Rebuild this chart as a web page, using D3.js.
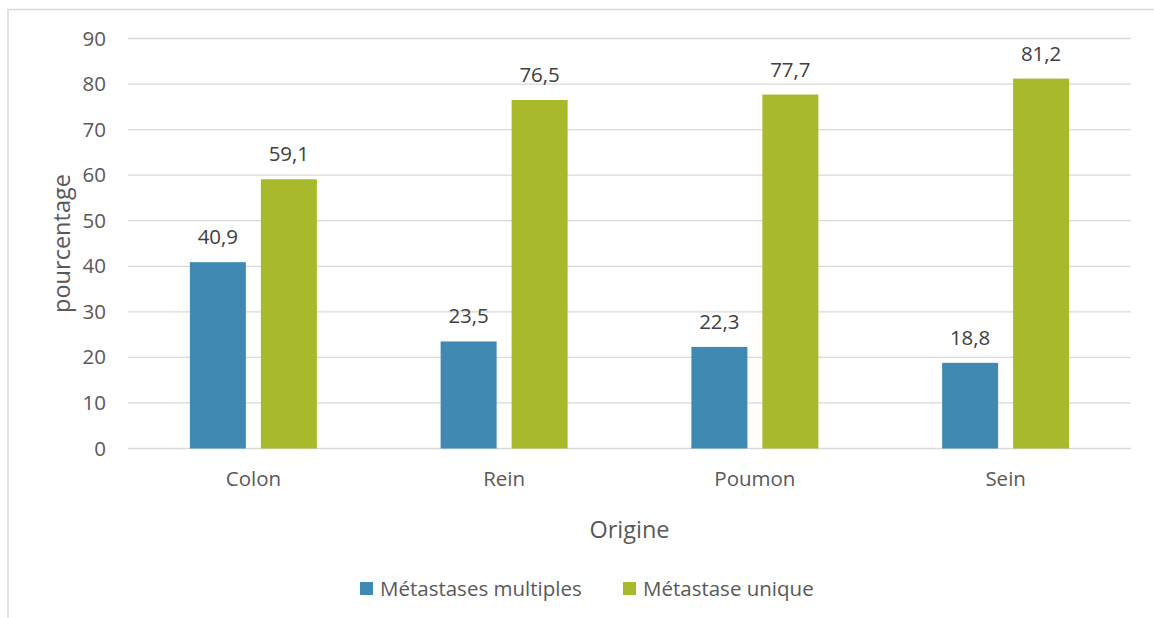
<!DOCTYPE html>
<html><head><meta charset="utf-8">
<script src="https://cdn.jsdelivr.net/npm/d3@7"></script>
<style>body{margin:0;background:#fff;} svg{display:block;font-family:"Open Sans",sans-serif;}</style>
</head><body>
<svg id="c" width="1154" height="618"></svg>
<script>
const categories = ["Colon","Rein","Poumon","Sein"];
const seriesNames = ["Métastases multiples","Métastase unique"];
const multiples = [40.9,23.5,22.3,18.8];
const unique = [59.1,76.5,77.7,81.2];
const yTicks = [0,10,20,30,40,50,60,70,80,90];
const colors = ["#3F89B3","#A8B92B"];

const svg = d3.select("#c");
svg.append("rect").attr("x",8).attr("y",9.5).attr("width",1160).attr("height",620)
  .attr("fill","none").attr("stroke","#d9d9d9").attr("stroke-width",1.5);

const L=128, R=1131, T=38.5, B=448.5;
const x = d3.scaleBand().domain(categories).range([L,R]);
const y = d3.scaleLinear().domain([0,90]).range([B,T]);
const barW = 56, gap = 15;
const fs = 20.5;

svg.append("g").selectAll("line").data(yTicks).enter().append("line")
  .attr("x1",L).attr("x2",R).attr("y1",d=>y(d)).attr("y2",d=>y(d))
  .attr("stroke","#d9d9d9").attr("stroke-width",1.3);

const yAxis = svg.append("g").attr("transform",`translate(${L},0)`)
  .call(d3.axisLeft(y).tickValues(yTicks).tickSize(0).tickPadding(22));
yAxis.select(".domain").remove();
yAxis.selectAll("text").attr("fill","#595959").style("font-size",fs+"px").style("font-family","Open Sans");

const xAxis = svg.append("g").attr("transform",`translate(0,${B})`)
  .call(d3.axisBottom(x).tickSize(0).tickPadding(23));
xAxis.select(".domain").remove();
xAxis.selectAll("text").attr("fill","#595959").style("font-size",fs+"px").style("font-family","Open Sans");

const data = [multiples, unique];
data.forEach((vals,si)=>{
  const off = si===0 ? -gap/2-barW : gap/2;
  svg.selectAll(null).data(vals).enter().append("rect")
    .attr("x",(d,i)=>x(categories[i])+x.bandwidth()/2+off)
    .attr("y",d=>y(d)).attr("width",barW).attr("height",d=>B-y(d))
    .attr("fill",colors[si]);
  svg.selectAll(null).data(vals).enter().append("text")
    .attr("x",(d,i)=>x(categories[i])+x.bandwidth()/2+off+barW/2)
    .attr("y",d=>y(d)-18).attr("text-anchor","middle")
    .attr("fill","#404040").style("font-size",fs+"px")
    .text(d=>d.toFixed(1).replace(".",","));
});

svg.append("text").attr("x",(L+R)/2).attr("y",538).attr("text-anchor","middle")
  .attr("fill","#595959").style("font-size","23.5px").text("Origine");
svg.append("text").attr("transform",`translate(70,${(T+B)/2}) rotate(-90)`).attr("text-anchor","middle")
  .attr("fill","#595959").style("font-size","23.5px").text("pourcentage");

const leg = svg.append("g");
const legX = [360,623];
seriesNames.forEach((n,i)=>{
  leg.append("rect").attr("x",legX[i]).attr("y",582).attr("width",13).attr("height",13).attr("fill",colors[i]);
  leg.append("text").attr("x",legX[i]+20).attr("y",596).attr("fill","#595959").style("font-size",fs+"px").text(n);
});
</script>
</body></html>
